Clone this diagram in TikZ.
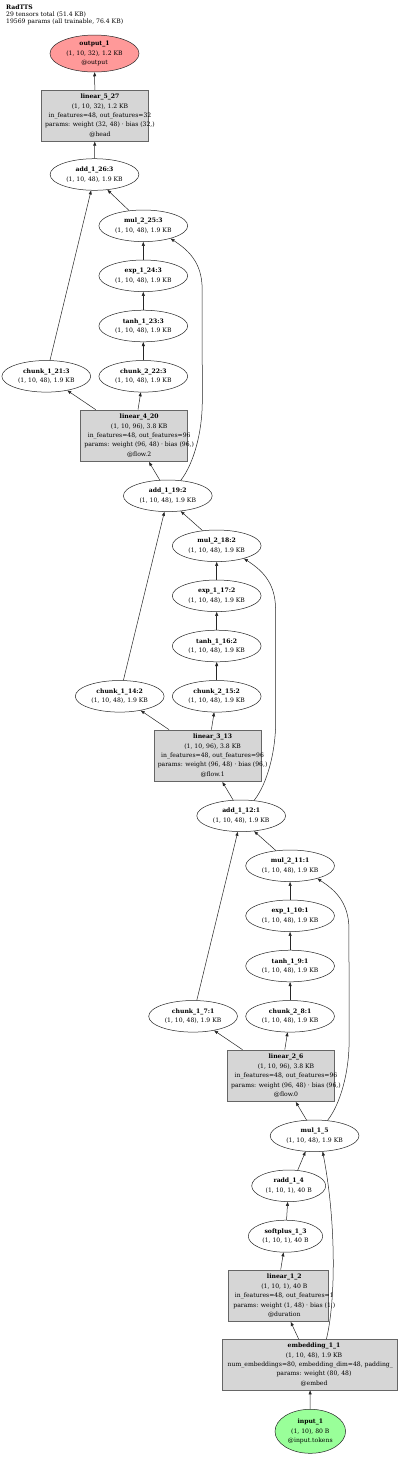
\documentclass[tikz,border=0pt]{standalone}
\usepackage{fontspec}
\setmainfont{DejaVu Serif}
\usetikzlibrary{shapes.geometric,arrows.meta,calc}
\definecolor{outfill}{HTML}{FF9999}
\definecolor{infill}{HTML}{99FF99}
\definecolor{boxfill}{HTML}{D6D6D6}
\newcommand\gvfont{\fontsize{6.1pt}{9.4pt}\selectfont}
\newcommand\gvtitlefont{\fontsize{6.1pt}{7.2pt}\selectfont}
\begin{document}
\begin{tikzpicture}[x=1pt,y=-1pt,
  op/.style={ellipse, draw=black!85, line width=0.5pt, minimum width=88.8pt, minimum height=31.6pt, inner sep=0pt, align=center, font=\gvfont},
  mod/.style={rectangle, draw=black!60, fill=boxfill, line width=0.6pt, inner sep=0pt},
  modtxt/.style={align=center, font=\gvfont, inner sep=0pt},
  conn/.style={draw=black!85, line width=0.5pt, -{Triangle[length=4pt,width=3pt]}}]
\fill[white] (0,0) rectangle (400,1457);
\useasboundingbox (0,0) rectangle (400,1457);

\node[anchor=north west, align=left, inner sep=0pt, font=\gvtitlefont] (title) at (6,4.5)
  {\textbf{RadTTS}\\29 tensors total (51.4 KB)\\19569 params (all trainable, 76.4 KB)};

% top
\node[op, fill=outfill, minimum width=89pt, minimum height=37pt] (out) at (94.5,53.5)
  {\textbf{output\_1}\\(1, 10, 32), 1.2 KB\\@output};
\node[mod, minimum width=107.4pt, minimum height=51.3pt] (l5) at (95,115.7) {};
\node[modtxt] (l5t) at ($(l5.center)+(5,0)$)
  {\textbf{linear\_5\_27}\\(1, 10, 32), 1.2 KB\\in\_features=48, out\_features=32\\params: weight (32, 48) · bias (32,)\\@head};
\node[op] (a26) at (94.5,174.5) {\textbf{add\_1\_26:3}\\(1, 10, 48), 1.9 KB};

% flow 2
\node[op] (m25) at (143.3,225.8) {\textbf{mul\_2\_25:3}\\(1, 10, 48), 1.9 KB};
\node[op] (e24) at (143.3,275.8) {\textbf{exp\_1\_24:3}\\(1, 10, 48), 1.9 KB};
\node[op] (t23) at (143.3,326) {\textbf{tanh\_1\_23:3}\\(1, 10, 48), 1.9 KB};
\node[op] (c22) at (143.3,376.3) {\textbf{chunk\_2\_22:3}\\(1, 10, 48), 1.9 KB};
\node[op] (c21) at (46.3,376.3) {\textbf{chunk\_1\_21:3}\\(1, 10, 48), 1.9 KB};
\node[mod, minimum width=107pt, minimum height=51.7pt] (l4) at (134.2,435.8) {};
\node[modtxt] (l4t) at ($(l4.center)+(5,0)$)
  {\textbf{linear\_4\_20}\\(1, 10, 96), 3.8 KB\\in\_features=48, out\_features=96\\params: weight (96, 48) · bias (96,)\\@flow.2};
\node[op] (a19) at (167.8,495.8) {\textbf{add\_1\_19:2}\\(1, 10, 48), 1.9 KB};

% flow 1
\node[op] (m18) at (216.7,545.8) {\textbf{mul\_2\_18:2}\\(1, 10, 48), 1.9 KB};
\node[op] (e17) at (216.7,595.8) {\textbf{exp\_1\_17:2}\\(1, 10, 48), 1.9 KB};
\node[op] (t16) at (216.7,646) {\textbf{tanh\_1\_16:2}\\(1, 10, 48), 1.9 KB};
\node[op] (c15) at (216.7,696.3) {\textbf{chunk\_2\_15:2}\\(1, 10, 48), 1.9 KB};
\node[op] (c14) at (119.7,696.3) {\textbf{chunk\_1\_14:2}\\(1, 10, 48), 1.9 KB};
\node[mod, minimum width=107pt, minimum height=51.7pt] (l3) at (207.6,755.8) {};
\node[modtxt] (l3t) at ($(l3.center)+(5,0)$)
  {\textbf{linear\_3\_13}\\(1, 10, 96), 3.8 KB\\in\_features=48, out\_features=96\\params: weight (96, 48) · bias (96,)\\@flow.1};
\node[op] (a12) at (241.2,815.8) {\textbf{add\_1\_12:1}\\(1, 10, 48), 1.9 KB};

% flow 0
\node[op] (m11) at (290.1,865.8) {\textbf{mul\_2\_11:1}\\(1, 10, 48), 1.9 KB};
\node[op] (e10) at (290.1,915.8) {\textbf{exp\_1\_10:1}\\(1, 10, 48), 1.9 KB};
\node[op] (t9) at (290.1,966) {\textbf{tanh\_1\_9:1}\\(1, 10, 48), 1.9 KB};
\node[op] (c8) at (290.1,1016.3) {\textbf{chunk\_2\_8:1}\\(1, 10, 48), 1.9 KB};
\node[op] (c7) at (193.1,1016.3) {\textbf{chunk\_1\_7:1}\\(1, 10, 48), 1.9 KB};
\node[mod, minimum width=107pt, minimum height=51.7pt] (l2) at (281,1075.8) {};
\node[modtxt] (l2t) at ($(l2.center)+(5,0)$)
  {\textbf{linear\_2\_6}\\(1, 10, 96), 3.8 KB\\in\_features=48, out\_features=96\\params: weight (96, 48) · bias (96,)\\@flow.0};
\node[op] (m5) at (314.6,1135.8) {\textbf{mul\_1\_5}\\(1, 10, 48), 1.9 KB};

% bottom
\node[op, minimum width=74pt] (r4) at (288.7,1185.8) {\textbf{radd\_1\_4}\\(1, 10, 1), 40 B};
\node[op, minimum width=74.4pt, minimum height=32pt] (s3) at (285.5,1236.2) {\textbf{softplus\_1\_3}\\(1, 10, 1), 40 B};
\node[mod, minimum width=100pt, minimum height=51.7pt] (l1) at (278.3,1295.8) {};
\node[modtxt] (l1t) at ($(l1.center)+(6,0)$)
  {\textbf{linear\_1\_2}\\(1, 10, 1), 40 B\\in\_features=48, out\_features=1\\params: weight (1, 48) · bias (1,)\\@duration};
\node[mod, minimum width=175.4pt, minimum height=50.7pt] (emb) at (310,1364.7) {};
\node[modtxt] (embt) at (314,1364.7)
  {\textbf{embedding\_1\_1}\\(1, 10, 48), 1.9 KB\\\makebox[0pt][l]{\hspace*{-86.3pt}num\_embeddings=80, embedding\_dim=48, padding\_}\\params: weight (80, 48)\\@embed};
\node[op, fill=infill, minimum width=70.6pt, minimum height=44pt] (in1) at (310.3,1431.3)
  {\textbf{input\_1}\\(1, 10), 80 B\\@input.tokens};

% connectors
\draw[conn] (l5) -- (out);
\draw[conn] (a26) -- (l5);
\foreach \A/\M/\E/\T/\Cb/\Ca/\L/\B in {a26/m25/e24/t23/c22/c21/l4/a19, a19/m18/e17/t16/c15/c14/l3/a12, a12/m11/e10/t9/c8/c7/l2/m5}{
  \draw[conn] (\Ca.77) -- (\A.258);
  \draw[conn] (\M.133) -- (\A.310);
  \draw[conn] (\E) -- (\M);
  \draw[conn] (\T) -- (\E);
  \draw[conn] (\Cb) -- (\T);
  \draw[conn] ($(\L.north west)+(15.3,0)$) -- (\Ca.326);
  \draw[conn] ($(\L.north west)+(57.6,0)$) -- (\Cb.261);
  \draw[conn] (\B.117) -- ($(\L.south west)+(68.6,0)$);
  \draw[conn] (\B.50) .. controls ($(\B.50)+(13.3,-17)$) and ($(\B.50)+(21.6,-49)$) .. ($(\B.50)+(21.6,-79)$)
     -- ($(\M.335)+(31.6,50.7)$) .. controls ($(\M.335)+(31.6,22.7)$) and ($(\M.335)+(16.3,10.7)$) .. (\M.335);
}
\draw[conn] (r4.60) -- (m5.240);
\draw[conn] ($(emb.north west)+(104.4,0)$) .. controls (336,1300) and (336,1220) .. (m5.297);
\draw[conn] (s3) -- (r4);
\draw[conn] ($(l1.north west)+(52.7,0)$) -- (s3.263);
\draw[conn] ($(emb.north west)+(76.7,0)$) -- ($(l1.south west)+(62.7,0)$);
\draw[conn] (in1) -- (emb);
\end{tikzpicture}
\end{document}
